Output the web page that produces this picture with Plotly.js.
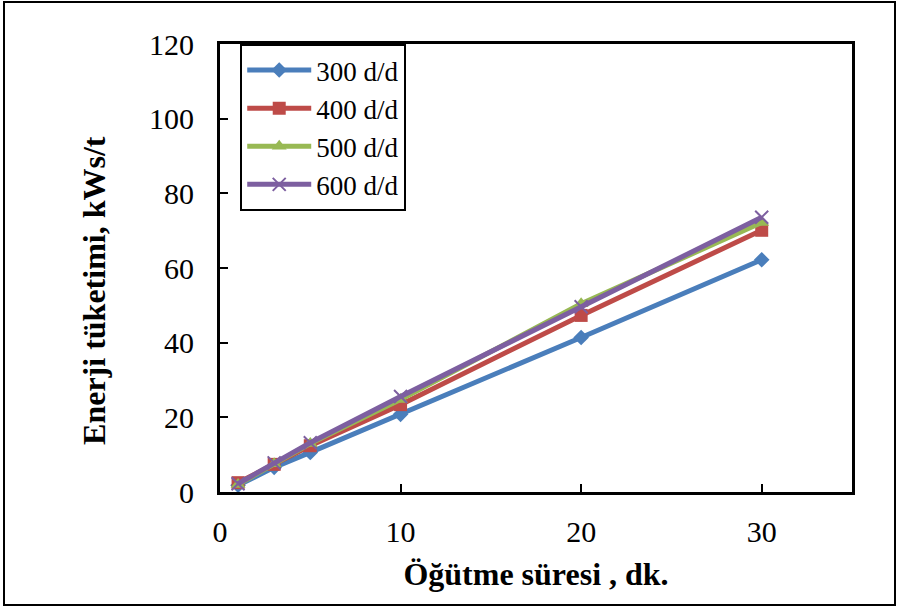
<!DOCTYPE html>
<html>
<head>
<meta charset="utf-8">
<script src="https://cdn.plot.ly/plotly-3.0.1.min.js"></script>
<style>
html,body{margin:0;padding:0;background:#fff;}
#frame{position:absolute;left:3px;top:1px;width:889px;height:601px;border:2px solid #000;}
#chart{position:absolute;left:0;top:0;width:898px;height:608px;}
</style>
</head>
<body>
<div id="chart"></div>
<div id="frame" style="pointer-events:none"></div>
<script>
const times = [1, 3, 5, 10, 20, 30];
const seriesNames = ["300 d/d", "400 d/d", "500 d/d", "600 d/d"];
const s300 = [1.8, 6.6, 10.6, 20.8, 41.4, 62.2];
const s400 = [2.5, 7.4, 12.4, 23.4, 47.3, 70.1];
const s500 = [2.0, 7.6, 13.0, 24.8, 50.4, 72.2];
const s600 = [2.2, 7.8, 13.2, 25.6, 49.6, 73.6];
const xTitle = "Öğütme süresi , dk.";
const yTitle = "Enerji tüketimi, kWs/t";

const colors = ["#4a7ebb", "#be4b48", "#98b954", "#7d5fa0"];
const symbols = ["diamond", "square", "triangle-up", "x-thin"];
const sizes = [12, 13, 13, 13];
const values = [s300, s400, s500, s600];

const traces = values.map((v, i) => ({
  x: times, y: v, name: seriesNames[i], type: "scatter", mode: "lines+markers",
  line: {color: colors[i], width: 5},
  marker: {symbol: symbols[i], size: sizes[i], color: colors[i],
           line: {color: colors[i], width: i === 3 ? 2 : 0}}
}));

const font = "Liberation Serif, Times New Roman, serif";
const layout = {
  width: 898, height: 608,
  margin: {l: 220, r: 46, t: 44, b: 116},
  paper_bgcolor: "#fff", plot_bgcolor: "#fff",
  font: {family: font, size: 30, color: "#000"},
  showlegend: true,
  legend: {x: 0.032, y: 1.0, xanchor: "left", yanchor: "top",
           bordercolor: "#000", borderwidth: 2, bgcolor: "#fff", itemwidth: 64,
           font: {family: font, size: 27, color: "#000"}, tracegroupgap: 0},
  xaxis: {range: [0, 35], tickvals: [0, 10, 20, 30], ticks: "inside", ticklen: 8, tickwidth: 2,
          tickcolor: "#000", showline: true, linewidth: 3, linecolor: "#000", mirror: true,
          showgrid: false, zeroline: false, ticklabelstandoff: 11,
          tickfont: {family: font, size: 30},
          title: {text: "<b>" + xTitle + "</b>", font: {family: font, size: 32}, standoff: 16}},
  yaxis: {range: [0, 120], tickvals: [0, 20, 40, 60, 80, 100, 120], ticks: "inside", ticklen: 8, tickwidth: 2,
          tickcolor: "#000", showline: true, linewidth: 3, linecolor: "#000", mirror: true,
          showgrid: false, zeroline: false, ticklabelstandoff: 17,
          tickfont: {family: font, size: 30}},
  annotations: [{text: "<b>" + yTitle + "</b>", xref: "paper", yref: "paper",
                 x: -0.1994, y: 0.451, xanchor: "center", yanchor: "middle",
                 textangle: -90, showarrow: false, font: {family: font, size: 32, color: "#000"}}]
};
Plotly.newPlot("chart", traces, layout, {displayModeBar: false, staticPlot: true});
</script>
</body>
</html>
